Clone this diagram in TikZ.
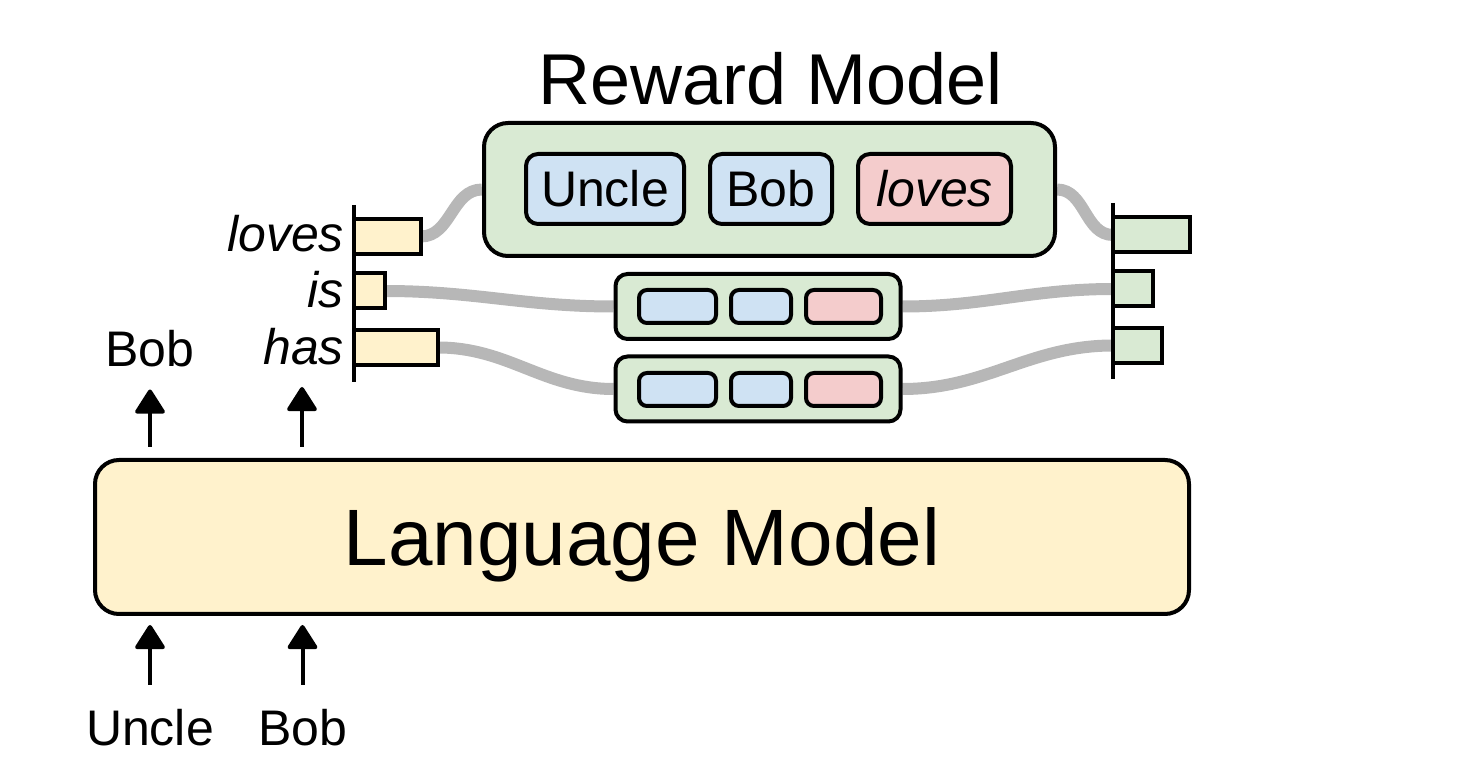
\documentclass[tikz,border=0pt]{standalone}
\usepackage{fontspec}
\setmainfont{Liberation Sans}
\usetikzlibrary{arrows.meta,backgrounds}

\definecolor{lmYellow}{HTML}{FFF2CC}
\definecolor{rmGreen}{HTML}{D9EAD3}
\definecolor{tokBlue}{HTML}{CFE2F3}
\definecolor{tokRed}{HTML}{F4CCCC}
\definecolor{linkGray}{HTML}{B7B7B7}

\tikzset{every picture/.style={line width=2pt},
  lmbox/.style={draw, fill=lmYellow, rounded corners=12pt, inner sep=0pt, text depth=0pt,
    minimum width=547pt, minimum height=77pt, font=\fontsize{40}{48}\selectfont},
  rmbox/.style={draw, fill=rmGreen, rounded corners=12pt, minimum width=285.5pt, minimum height=66.5pt},
  candbox/.style={draw, fill=rmGreen, rounded corners=6pt, minimum width=142.5pt, minimum height=32.5pt},
  tok/.style={draw, fill=tokBlue, rounded corners=6pt, inner sep=0pt, minimum height=35pt,
    font=\fontsize{25}{30}\selectfont},
  tokmini/.style={draw, fill=tokBlue, rounded corners=4pt, inner sep=0pt, minimum height=16.5pt},
  bar/.style={draw, line width=2pt, anchor=west, inner sep=0pt, outer sep=0pt, minimum height=17.5pt},
  word/.style={inner sep=0pt, font=\fontsize{25}{30}\selectfont},
  link/.style={draw=linkGray, line width=6pt},
  arr/.style={-{Triangle[width=16pt,length=13pt,round]}, line width=2pt}
}

\begin{document}
\begin{tikzpicture}[x=0.5pt,y=0.5pt,yscale=-1,xscale=1]
\useasboundingbox (0,0) rectangle (1479,780);

\node [lmbox] (lm) at (642,537) {Language Model};

\node [anchor=base, inner sep=0pt, font=\fontsize{36}{43}\selectfont] (rmTitle) at (771,105) {Reward Model};
\node [rmbox] (rm) at (769.5,189.5) {};
\node [tok, minimum width=79pt] (tokUncle) at (605,189) {Uncle};
\node [tok, minimum width=61pt] (tokBob) at (771,189) {Bob};
\node [tok, fill=tokRed, minimum width=76.5pt, font=\fontsize{25}{30}\selectfont\itshape] (tokLoves) at (934.5,189) {loves};

\node [candbox] (candIs) at (758,306.5) {};
\node [tokmini, minimum width=38.5pt] (candIsA) at (677.5,306.5) {};
\node [tokmini, minimum width=30pt] (candIsB) at (761,306.5) {};
\node [tokmini, fill=tokRed, minimum width=37.5pt] (candIsC) at (843.5,306.5) {};

\node [candbox] (candHas) at (758,389) {};
\node [tokmini, minimum width=38.5pt] (candHasA) at (677.5,389.5) {};
\node [tokmini, minimum width=30pt] (candHasB) at (761,389.5) {};
\node [tokmini, fill=tokRed, minimum width=37.5pt] (candHasC) at (843.5,389.5) {};

\coordinate (axLtop) at (354,205);
\coordinate (axLbot) at (354,382);
\coordinate (axRtop) at (1113,203);
\coordinate (axRbot) at (1113,379);

\node [bar, fill=lmYellow, minimum width=33.5pt] (barLloves) at (354,236.5) {};
\node [bar, fill=lmYellow, minimum width=15.5pt] (barLis) at (354,291) {};
\node [bar, fill=lmYellow, minimum width=42pt] (barLhas) at (354,347.5) {};
\node [bar, fill=rmGreen, minimum width=38.5pt] (barRloves) at (1113,235) {};
\node [bar, fill=rmGreen, minimum width=20pt] (barRis) at (1113,289) {};
\node [bar, fill=rmGreen, minimum width=24.5pt] (barRhas) at (1113,345.5) {};
\draw (axLtop) -- (axLbot);
\draw (axRtop) -- (axRbot);

\node [word, anchor=base east, font=\fontsize{25}{30}\selectfont\itshape] (lblLoves) at (346,252) {loves};
\node [word, anchor=base east, font=\fontsize{25}{30}\selectfont\itshape] (lblIs) at (346,308) {is};
\node [word, anchor=base east, font=\fontsize{25}{30}\selectfont\itshape] (lblHas) at (346,365) {has};

\node [word, anchor=base] (outBob) at (150,367) {Bob};
\coordinate (hasTip) at (302,387);
\node [word, anchor=base] (inUncle) at (150,745) {Uncle};
\node [word, anchor=base] (inBob) at (302.5,745) {Bob};

\draw [arr, shorten <=5.5pt, shorten >=10pt] (lm.north -| outBob) -- (outBob.south);
\draw [arr, shorten <=5.5pt] (lm.north -| hasTip) -- (hasTip);
\draw [arr, shorten <=11pt, shorten >=4.5pt] (inUncle.north) -- (inUncle.north |- lm.south);
\draw [arr, shorten <=11pt, shorten >=4.5pt] (inBob.north) -- (inBob.north |- lm.south);

\begin{scope}[on background layer]
\draw [link] (barLloves.east) to[out=0,in=180] (rm.west);
\draw [link] (barLis.east) to[out=0,in=180] (candIs.west);
\draw [link] (barLhas.east) to[out=0,in=180] (candHas.west);
\draw [link] (rm.east) to[out=0,in=180] (barRloves.west);
\draw [link] (candIs.east) to[out=0,in=180] (barRis.west);
\draw [link] (candHas.east) to[out=0,in=180] (barRhas.west);
\end{scope}

\end{tikzpicture}
\end{document}
